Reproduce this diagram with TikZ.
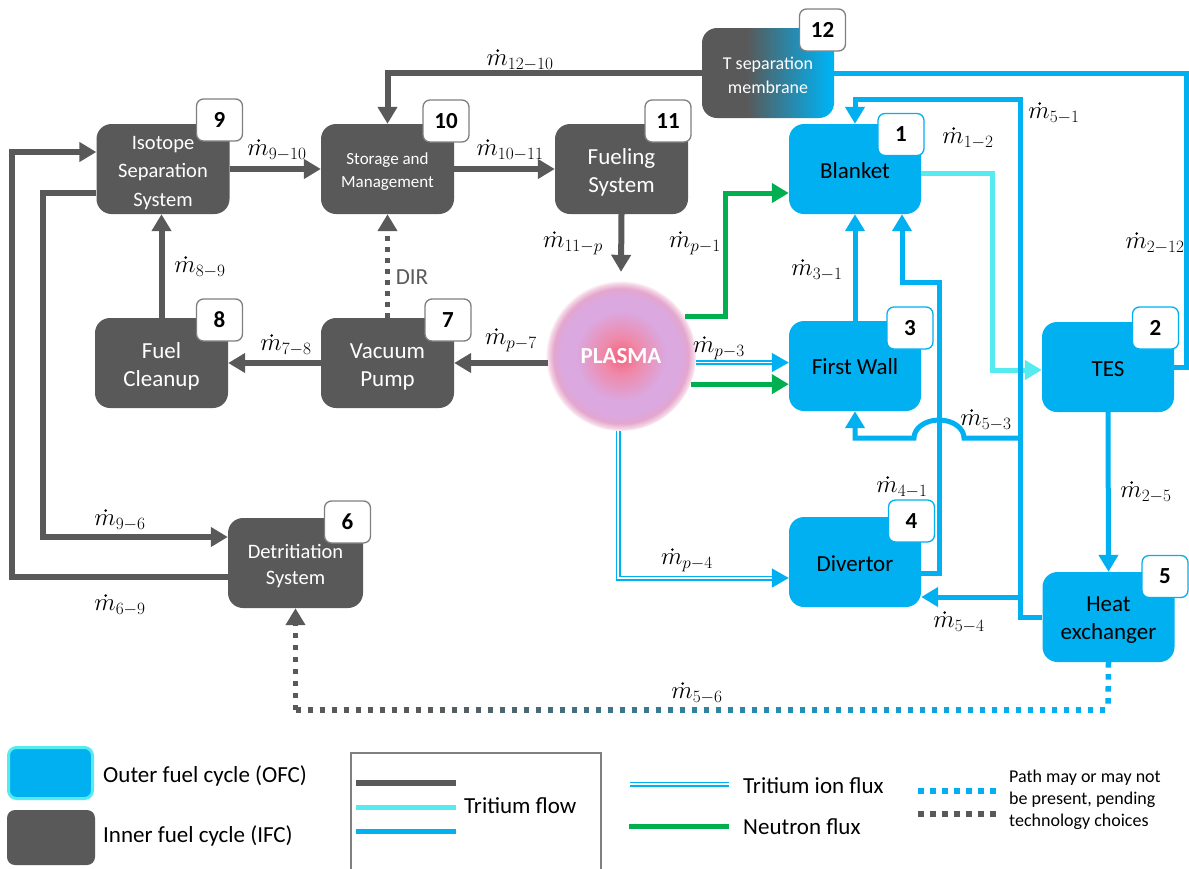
\documentclass[tikz,border=0pt]{standalone}
\usepackage{fontspec}
\setmainfont{Carlito}
\usetikzlibrary{arrows.meta,calc}

\definecolor{ifc}{HTML}{595959}
\definecolor{ofc}{HTML}{00B0F0}
\definecolor{cyanf}{HTML}{55EBEF}
\definecolor{neut}{HTML}{00B050}
\definecolor{badgegray}{HTML}{7F7F7F}
\definecolor{pc0}{HTML}{F55F7C}
\definecolor{pc1}{HTML}{EF88A8}
\definecolor{pc2}{HTML}{DBA8E0}
\definecolor{pc3}{HTML}{E4A6CE}
\definecolor{pc4}{HTML}{F5D8E6}

\pgfdeclareradialshading{plasmashade}{\pgfpoint{0bp}{0bp}}{color(0bp)=(pc0); color(6bp)=(pc1); color(15bp)=(pc2); color(20bp)=(pc2); color(22.5bp)=(pc3); color(24.3bp)=(pc4); color(25.2bp)=(white); color(50bp)=(white)}
\pgfdeclarehorizontalshading{membshade}{100bp}{color(0bp)=(ifc); color(42bp)=(ifc); color(73bp)=(ofc); color(100bp)=(ofc)}

\newcommand{\mflow}[1]{$\vphantom{\dot m}m_{#1}$}

\tikzset{
 box/.style={rounded corners=15pt, minimum width=133pt, minimum height=90pt, inner sep=0pt},
 ifcbox/.style={box, fill=ifc},
 ofcbox/.style={box, fill=ofc},
 btxt/.style={align=center, inner sep=0pt, font=\fontsize{23}{28}\selectfont},
 ifctxt/.style={btxt, text=white},
 ofctxt/.style={btxt, text=black},
 badge/.style={rounded corners=7pt, minimum width=46pt, minimum height=42pt, fill=white, line width=1.3pt, font=\fontsize{23}{28}\selectfont\bfseries, inner sep=0pt},
 ifcbadge/.style={badge, draw=badgegray},
 ofcbadge/.style={badge, draw=ofc},
 arr/.style={-{Triangle[length=17pt,width=19pt]}},
 ifcflow/.style={draw=ifc, line width=6pt},
 ofcflow/.style={draw=ofc, line width=5pt},
 cyanflow/.style={draw=cyanf, line width=5pt},
 neutflow/.style={draw=neut, line width=5pt},
 ionflow/.style={draw=ofc, double=white, line width=1.7pt, double distance=1.6pt},
 pathdots/.style={line width=5.5pt, dash pattern=on 5.5pt off 6.5pt},
 lab/.style={font=\fontsize{24}{28}\selectfont, inner sep=0pt},
 legtext/.style={anchor=west, inner sep=0pt, font=\fontsize{23}{28}\selectfont},
}

\begin{document}
\begin{tikzpicture}[x=1pt,y=-1pt]
\useasboundingbox (0,0) rectangle (1189,868);

% ---------- boxes ----------
\node[ifcbox] (iss) at (163,169) {};
\node[ifcbox] (stor) at (387.5,169) {};
\node[ifcbox] (fuel) at (621.5,169) {};
\node[box, minimum width=132pt, shading=membshade] (memb) at (768,73) {};
\node[ofcbox, minimum width=132pt] (blanket) at (855,169) {};
\node[ofcbox, minimum width=132pt] (fw) at (855,366) {};
\node[ofcbox, minimum width=132pt] (tes) at (1108,367) {};
\node[ofcbox, minimum width=132pt] (div) at (855,562) {};
\node[ofcbox, minimum width=132pt] (hx) at (1108.5,617) {};
\node[ifcbox] (clean) at (161.5,363) {};
\node[ifcbox] (vac) at (387.5,363) {};
\node[ifcbox, minimum width=135pt] (det) at (295.5,563) {};
\node[circle, minimum size=150pt, inner sep=0pt, shading=plasmashade, text=white, font=\fontsize{23}{28}\selectfont\bfseries] (plasma) at (621,356) {PLASMA};

% ---------- box texts ----------
\node[ifctxt, font=\fontsize{20.5}{28.5}\selectfont] (isst) at ([yshift=-4pt]iss.center) {Isotope\\Separation\\System};
\node[ifctxt, font=\fontsize{17}{23}\selectfont] (stort) at ([yshift=-3pt]stor.center) {Storage and\\Management};
\node[ifctxt] (fuelt) at ([yshift=-3.5pt]fuel.center) {Fueling\\System};
\node[ifctxt, font=\fontsize{18}{24}\selectfont] (membt) at ([yshift=-2pt]memb.center) {T separation\\membrane};
\node[ofctxt] (blankett) at ([yshift=-2pt]blanket.center) {Blanket};
\node[ofctxt] (fwt) at ([yshift=-1pt]fw.center) {First Wall};
\node[ofctxt] (test) at ([yshift=-2pt]tes.center) {TES};
\node[ofctxt] (divt) at ([yshift=-2pt]div.center) {Divertor};
\node[ofctxt] (hxt) at ([yshift=-3.5pt]hx.center) {Heat\\exchanger};
\node[ifctxt] (cleant) at ([yshift=-3.5pt]clean.center) {Fuel\\Cleanup};
\node[ifctxt] (vact) at ([yshift=-3.5pt]vac.center) {Vacuum\\Pump};
\node[ifctxt, font=\fontsize{20.5}{26}\selectfont] (dett) at ([yshift=-3pt]det.center) {Detritiation\\System};

% ---------- junction coordinates ----------
\coordinate (J1) at (1020,99);
\coordinate (J2) at (1020,438);
\coordinate (J3) at (1020,597);
\coordinate (H1) at (939,282);
\coordinate (R1) at (1186,73);
\coordinate (C1) at (992,370);
\coordinate (G1) at (725,193);
\coordinate (L1) at (12,152);
\coordinate (L2) at (43,537);
\coordinate (B1) at (1108,710);
\coordinate (B2) at (295.5,710);

% ---------- inner fuel cycle flows ----------
\draw[ifcflow, arr] (iss.east) -- (stor.west);
\draw[ifcflow, arr] (stor.east) -- (fuel.west);
\draw[ifcflow, arr] (fuel.south) -- ([yshift=9pt]plasma.north);
\draw[ifcflow, arr] ([xshift=2pt]plasma.west |- vac.east) -- (vac.east);
\draw[ifcflow, arr] (vac.west) -- (clean.east);
\draw[ifcflow, arr] (clean.north) -- (clean.north |- iss.south);
\draw[ifcflow, arr] (memb.west) -| (stor.north);
\draw[ifcflow, arr] ([yshift=-14pt]det.west) -| (L1) -- (iss.west |- L1);
\draw[ifcflow, arr] ([yshift=-24pt]iss.west) -| (L2) -- (det.west |- L2);
\draw[ifc, line width=5pt, dash pattern=on 5pt off 6pt, arr] (vac.north) -- (stor.south);

% ---------- outer fuel cycle flows ----------
\draw[cyanflow, arr] ([yshift=-4pt]blanket.east) -| (C1) -- (tes.west |- C1);
\draw[ofcflow, arr] (hx.west) -| (J1) -| (blanket.north);
\draw[ofcflow, arr] (J2) -- (964,438) arc[start angle=0, end angle=-180, x radius=25, y radius=18] -- (fw.south |- J2) -- (fw.south);
\draw[ofcflow, arr] (J3) -- (div.east |- J3);
\draw[ofcflow, arr] ([yshift=-11pt]div.east) -| (H1) -| ([xshift=47pt]blanket.south);
\draw[ofcflow, arr] (fw.north) -- (blanket.south);
\draw[ofcflow, arr] (tes.south) -- (hx.north);
\draw[ofcflow] (tes.east) -| (R1) -- (memb.east |- R1);

% ---------- neutron and ion flux ----------
\draw[neutflow, arr] (plasma.32) -| (G1) -- (blanket.west |- G1);
\draw[neutflow, arr] (plasma.-22) -- (fw.west |- plasma.-22);
\draw[ionflow, arr] (plasma.-5) -- (fw.west |- plasma.-5);
\draw[ionflow, arr] ([xshift=-3pt]plasma.south) |- ([yshift=-16pt]div.west);

% ---------- optional path 5 -> 6 ----------
\draw[ofc, pathdots] (hx.south) -- (B1);
\foreach \i in {0,...,67} {
  \pgfmathsetmacro\xx{295.5+12*\i}
  \pgfmathsetmacro\pp{min(100,max(0,(\xx-420)/6.0))}
  \draw[line width=5.5pt, draw=ofc!\pp!ifc] (\xx,710) -- ++(5.5,0);
}
\draw[ifc, pathdots, arr] (B2) -- (det.south);

% ---------- badges ----------
\node[ifcbadge] (b9) at (219.5,120) {9};
\node[ifcbadge] (b10) at (446,121) {10};
\node[ifcbadge] (b11) at (668,121) {11};
\node[ifcbadge] (b12) at (822.5,30) {12};
\node[ofcbadge] (b1) at (901,134.5) {1};
\node[ofcbadge] (b3) at (910,328) {3};
\node[ofcbadge] (b2) at (1155.5,328) {2};
\node[ofcbadge] (b4) at (911.5,521) {4};
\node[ofcbadge] (b5) at (1165,576.5) {5};
\node[ifcbadge] (b8) at (219.5,320) {8};
\node[ifcbadge] (b7) at (448,320) {7};
\node[ifcbadge] (b6) at (347.5,522) {6};

% ---------- flow labels (m with a drawn dot) ----------
\node[lab] (l1210) at (520,60) {\mflow{12-10}};
\node[lab] (l910) at (277,150) {\mflow{9-10}};
\node[lab] (l1011) at (510,150) {\mflow{10-11}};
\node[lab] (l11p) at (573,243) {\mflow{11-p}};
\node[lab] (lp1) at (695,243) {\mflow{p-1}};
\node[lab] (l31) at (817,270) {\mflow{3-1}};
\node[lab] (l12) at (968,138) {\mflow{1-2}};
\node[lab] (l51) at (1054,113) {\mflow{5-1}};
\node[lab] (l212) at (1155,243) {\mflow{2-12}};
\node[lab] (lp3) at (719,348) {\mflow{p-3}};
\node[lab] (l53) at (986,420) {\mflow{5-3}};
\node[lab] (l41) at (902,487) {\mflow{4-1}};
\node[lab] (l25) at (1146,492) {\mflow{2-5}};
\node[lab] (l54) at (959,622) {\mflow{5-4}};
\node[lab] (l56) at (697,693) {\mflow{5-6}};
\node[lab] (lp4) at (687,560) {\mflow{p-4}};
\node[lab] (lp7) at (511,340) {\mflow{p-7}};
\node[lab] (l78) at (286,345) {\mflow{7-8}};
\node[lab] (l89) at (200,267) {\mflow{8-9}};
\node[lab] (l96) at (120,520) {\mflow{9-6}};
\node[lab] (l69) at (120,605) {\mflow{6-9}};
\foreach \n in {l1210,l910,l1011,l11p,lp1,l31,l12,l51,l212,lp3,l53,l41,l25,l54,l56,lp4,lp7,l78,l89,l96,l69}
  \fill ([xshift=11.4pt,yshift=15pt]\n.base west) circle (1.45pt);
\node[font=\fontsize{23}{28}\selectfont, text=ifc, inner sep=0pt] (dir) at (412,277) {DIR};

% ---------- legend ----------
\node[draw=cyanf, line width=3pt, fill=ofc, rounded corners=8pt, minimum width=84pt, minimum height=51pt, inner sep=0pt] (legofc) at (50.5,773) {};
\node[fill=ifc, rounded corners=8pt, minimum width=88pt, minimum height=55pt, inner sep=0pt] (legifc) at (51,837.5) {};
\node[legtext] (legofct) at (103,776) {Outer fuel cycle (OFC)};
\node[legtext] (legifct) at (103,836) {Inner fuel cycle (IFC)};
\draw[badgegray, line width=1.5pt] (351,880) -- (351,753) -- (601,753) -- (601,880);
\draw[ifcflow] (356,783) -- (456,783);
\draw[cyanflow] (356,807) -- (456,807);
\draw[ofcflow] (356,831) -- (456,831);
\node[legtext] (legtf) at (464,806) {Tritium flow};
\draw[ionflow] (630,784) -- (729,784);
\node[legtext] (legion) at (743,786) {Tritium ion flux};
\draw[neutflow] (629,826) -- (729,826);
\node[legtext] (legneut) at (743,827) {Neutron flux};
\draw[ofc, pathdots] (918,791) -- (998,791);
\draw[ifc, pathdots] (918,814) -- (998,814);
\node[anchor=west, align=left, inner sep=0pt, font=\fontsize{18}{22}\selectfont] (legpath) at (1009,800) {Path may or may not\\be present, pending\\technology choices};
\end{tikzpicture}
\end{document}
